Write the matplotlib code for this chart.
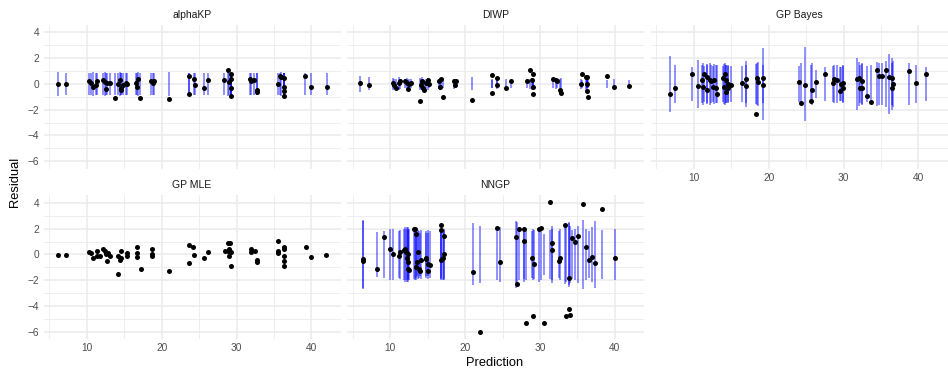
import numpy as np
import matplotlib
matplotlib.use("Agg")
import matplotlib.pyplot as plt
from matplotlib.ticker import MultipleLocator

plt.rcParams['font.family'] = ['Liberation Sans', 'DejaVu Sans']

### DATA ###########################################################

alpha_x = [6.2, 7.2, 10.3, 10.5, 10.8, 11.2, 11.3, 12.1, 12.4, 12.5,
           12.7, 13.1, 13.8, 14.2, 14.4, 14.5, 14.6, 14.8, 15.2, 15.3,
           16.6, 16.7, 16.8, 17.1, 18.6, 18.8, 19.0, 21.0, 23.7, 23.6,
           24.3, 24.4, 25.6, 26.2, 28.3, 28.8, 29.0, 29.2, 29.2, 29.3,
           29.2, 31.8, 31.9, 32.4, 32.7, 32.7, 35.6, 35.8, 36.0, 36.4,
           36.3, 36.3, 36.4, 39.1, 40.0, 42.1]
alpha_res = [0.0, 0.0, 0.2, 0.1, -0.2, -0.1, 0.2, 0.3, 0.15, -0.4,
             0.1, 0.1, -1.1, 0.0, 0.3, -0.3, -0.5, -0.05, 0.1, 0.0,
             0.1, -0.2, 0.4, -1.1, 0.25, 0.05, 0.25, -1.2, 0.6, -0.8,
             0.4, -0.1, -0.3, 0.3, 0.3, 1.05, 0.15, 0.75, 0.4, -0.35,
             -0.9, 0.35, 0.2, 0.3, -0.5, -0.6, 0.0, 0.65, 0.5, 0.45,
             -0.2, -0.55, -0.95, 0.65, -0.2, -0.2]
alpha_hw = [0.92, 0.88, 0.88, 0.85, 0.9, 0.86, 0.88, 0.87, 0.9, 0.86,
            0.88, 0.85, 0.87, 0.86, 0.9, 0.88, 0.85, 0.87, 0.88, 0.86,
            0.88, 0.85, 0.9, 0.87, 0.86, 0.88, 0.85, 0.9, 0.88, 0.86,
            0.87, 0.85, 0.86, 0.85, 0.88, 0.9, 0.87, 0.85, 0.88, 0.86,
            0.9, 0.86, 0.88, 0.85, 0.87, 0.86, 0.85, 0.88, 0.9, 0.86,
            0.87, 0.85, 0.88, 0.86, 0.85, 0.84]

diwp_x = [6.0, 7.2, 10.3, 10.5, 10.8, 11.1, 11.3, 11.9, 12.2, 12.3,
          12.5, 12.8, 13.9, 14.1, 14.2, 14.3, 14.5, 14.7, 15.0, 15.1,
          16.5, 16.7, 16.6, 17.0, 18.5, 18.7, 18.8, 20.9, 23.6, 23.6,
          24.2, 24.2, 25.5, 26.1, 28.3, 28.7, 29.1, 28.9, 29.1, 29.0,
          31.8, 32.1, 32.3, 32.7, 32.8, 35.6, 35.5, 36.1, 36.3, 36.3,
          36.3, 36.4, 39.0, 39.9, 41.9]
diwp_res = [0.05, -0.1, 0.1, -0.1, -0.3, 0.1, 0.2, 0.2, 0.1, -0.4,
            0.0, 0.1, -1.3, -0.05, 0.2, -0.3, -0.5, 0.1, 0.3, 0.0,
            0.2, 0.4, -0.2, -1.05, 0.2, -0.05, 0.2, -1.25, 0.7, -0.7,
            0.45, -0.05, -0.3, 0.2, 0.2, 1.05, 0.75, 0.3, -0.25, -0.8,
            0.4, 0.3, 0.2, -0.5, -0.7, 0.8, 0.0, 0.5, 0.5, 0.0,
            -0.55, -1.0, 0.65, -0.25, -0.15]
diwp_hw = [0.6, 0.5, 0.45, 0.4, 0.35, 0.5, 0.4, 0.35, 0.45, 0.3,
           0.4, 0.35, 0.45, 0.4, 0.5, 0.35, 0.3, 0.4, 0.45, 0.35,
           0.4, 0.3, 0.45, 0.35, 0.4, 0.3, 0.35, 0.5, 0.3, 0.35,
           0.4, 0.3, 0.35, 0.3, 0.35, 0.4, 0.3, 0.45, 0.35, 0.3,
           0.35, 0.4, 0.3, 0.35, 0.45, 0.3, 0.4, 0.45, 0.35, 0.3,
           0.4, 0.35, 0.3, 0.35, 0.3]

bayes_x = [6.8, 7.5, 9.8, 10.5, 11.1, 11.2, 11.4, 11.7, 11.8, 12.1,
           12.3, 12.6, 12.7, 12.9, 13.1, 13.9, 14.0, 14.2, 14.3, 14.3,
           14.5, 14.6, 15.0, 16.4, 16.9, 16.9, 18.4, 18.3, 18.6, 19.3,
           19.3, 24.0, 24.3, 24.8, 25.6, 25.8, 26.3, 27.5, 28.6, 28.7,
           29.1, 29.5, 29.7, 29.9, 29.9, 31.8, 32.1, 32.5, 32.2, 32.5,
           33.1, 33.7, 34.5, 34.8, 35.2, 35.7, 36.1, 36.5, 36.6, 36.5,
           38.7, 39.7, 41.0]
bayes_res = [-0.77, -0.3, 0.8, -0.15, 0.3, -0.2, 0.75, -0.45, 0.55, 0.3,
             0.2, -0.25, 0.3, -0.3, -0.75, 0.45, -0.2, 0.8, 0.3, -0.6,
             -0.3, 0.0, -0.1, 0.1, 0.35, -0.15, 0.45, -2.3, 0.15, 0.45,
             -0.05, 0.15, -1.45, -0.1, -1.3, -0.5, 0.15, 0.75, 0.05, 0.35,
             0.3, -0.55, 0.0, -0.3, 0.1, 0.35, 0.45, 0.25, -0.3, -0.3,
             -0.95, -1.4, 1.05, 0.6, 0.6, 1.05, 0.5, 0.45, 0.0, -0.35,
             1.0, 0.1, 0.8]
bayes_hw = [2.2, 1.5, 1.35, 1.85, 1.5, 1.6, 1.4, 1.55, 1.45, 1.6,
            1.5, 1.4, 1.55, 1.45, 1.5, 1.4, 1.55, 1.6, 1.45, 1.5,
            1.4, 1.5, 1.4, 1.4, 1.8, 1.5, 1.6, 1.55, 1.7, 2.8,
            1.5, 1.4, 1.6, 2.9, 1.5, 1.6, 1.1, 1.3, 1.4, 1.5,
            1.5, 1.3, 1.3, 1.4, 1.45, 2.0, 1.7, 1.6, 1.5, 1.55,
            1.4, 1.5, 1.7, 1.6, 1.6, 1.8, 2.3, 2.0, 1.8, 1.6,
            1.6, 1.5, 1.3]

mle_x = [6.2, 7.2, 10.3, 10.5, 10.8, 11.3, 11.3, 11.7, 12.2, 12.4,
         12.5, 12.7, 12.8, 13.1, 14.2, 14.2, 14.4, 14.5, 14.5, 15.3,
         15.3, 16.7, 16.7, 16.7, 17.2, 18.7, 18.7, 18.7, 21.0, 23.6,
         23.6, 24.2, 24.3, 25.6, 26.2, 28.4, 28.9, 29.1, 29.0, 29.0,
         29.0, 29.2, 29.2, 31.9, 31.9, 32.5, 32.7, 32.7, 35.5, 35.5,
         35.5, 36.4, 36.4, 36.4, 36.4, 36.4, 39.3, 40.0, 41.9]
mle_res = [-0.05, -0.05, 0.2, 0.1, -0.25, -0.1, 0.3, -0.1, 0.4, 0.25,
           0.0, -0.5, 0.1, -0.1, -1.5, -0.1, -0.4, 0.25, -0.25, 0.1,
           -0.1, 0.55, 0.1, -0.2, -1.15, 0.45, 0.05, -0.1, -1.3, 0.75,
           -0.7, 0.55, -0.05, -0.3, 0.2, 0.25, 0.85, 0.85, 0.45, 0.2,
           -0.15, 0.2, -0.9, 0.4, 0.15, 0.25, -0.4, -0.6, 1.05, 0.25,
           0.1, 0.55, 0.4, -0.1, -0.5, -0.9, 0.55, -0.2, -0.05]

nngp_x = [6.3, 6.4, 8.2, 9.1, 9.9, 10.4, 11.1, 11.3, 11.8, 12.0,
          12.1, 12.2, 12.3, 12.4, 12.5, 12.4, 13.1, 13.3, 13.4, 13.4,
          13.5, 13.7, 13.8, 14.0, 14.1, 14.7, 14.8, 15.0, 15.0, 15.3,
          16.8, 16.8, 16.8, 17.0, 17.2, 17.2, 21.0, 22.0, 24.3, 24.7,
          26.8, 26.9, 27.2, 27.9, 27.8, 28.1, 28.9, 29.0, 29.2, 29.9,
          30.1, 30.5, 31.3, 31.6, 31.6, 32.6, 32.7, 33.4, 33.5, 33.9,
          34.0, 33.9, 34.3, 34.7, 35.1, 35.7, 36.1, 36.5, 36.9, 37.3,
          38.3, 40.0]
nngp_res = [-0.35, -0.5, -1.1, 1.35, 0.45, 0.0, -0.15, 0.15, 0.35, 0.4,
            0.2, -0.25, -0.55, -1.1, -1.2, 0.0, 1.95, 2.0, 1.6, -0.95,
            -0.55, 0.2, -1.15, -1.3, -0.45, -0.25, -0.35, -1.25, -0.75, -0.8,
            2.25, 1.9, -0.45, -0.25, 1.4, 0.0, -1.4, -6.05, 2.05, -0.55,
            1.35, -2.3, 1.95, 1.95, 1.05, -5.35, -0.3, -4.75, -0.75, 2.0,
            2.05, -5.35, 4.1, 0.85, 0.35, -0.5, -0.25, 2.25, -4.8, -4.2,
            -4.7, -1.8, 1.3, 0.95, 1.45, 3.95, 0.55, -0.4, -0.2, -0.7,
            3.5, -0.3]
nngp_hw = [2.7, 2.6, 1.75, 1.8, 2.0, 2.0, 1.8, 1.9, 2.0, 2.1,
           2.0, 2.1, 2.0, 1.9, 2.0, 2.1, 1.9, 2.0, 1.8, 2.0,
           1.7, 1.9, 1.8, 1.7, 1.9, 1.7, 1.8, 1.7, 1.9, 1.8,
           1.9, 2.0, 1.8, 2.0, 1.9, 2.0, 2.4, 2.2, 2.0, 2.1,
           2.6, 2.5, 2.0, 2.1, 1.9, 2.0, 1.8, 2.0, 1.9, 2.1,
           2.0, 1.6, 1.9, 2.2, 2.0, 1.8, 2.0, 2.3, 2.1, 2.5,
           2.2, 2.4, 1.9, 2.0, 2.2, 2.7, 2.0, 1.8, 2.1, 2.6,
           1.9, 2.0]

panels = [
    ("alphaKP", alpha_x, alpha_res, alpha_hw),
    ("DIWP", diwp_x, diwp_res, diwp_hw),
    ("GP Bayes", bayes_x, bayes_res, bayes_hw),
    ("GP MLE", mle_x, mle_res, None),
    ("NNGP", nngp_x, nngp_res, nngp_hw),
]

### PLOT ###########################################################

W, H = 948, 373
fig = plt.figure(figsize=(W / 100, H / 100), dpi=100)

lefts = [43.5, 347, 650.5]
tops = [24.5, 195]
pw, ph = 297, 144

grid_col = '#ebebeb'
txt_col = '#4d4d4d'

for i, (name, x, res, hw) in enumerate(panels):
    row, col = divmod(i, 3)
    l = lefts[col]
    t = tops[row]
    ax = fig.add_axes([l / W, 1 - (t + ph) / H, pw / W, ph / H])

    x = np.array(x)
    res = np.array(res)
    if hw is not None:
        hw = np.array(hw)
        ax.vlines(x, -hw, hw, color='blue', alpha=0.5, lw=1.2, zorder=2)
    ax.scatter(x, res, s=13, color='black', zorder=3, linewidths=0)

    ax.set_xlim(4.2, 43.9)
    ax.set_ylim(-6.56, 4.61)
    ax.xaxis.set_major_locator(MultipleLocator(10))
    ax.xaxis.set_minor_locator(MultipleLocator(5))
    ax.yaxis.set_major_locator(MultipleLocator(2))
    ax.yaxis.set_minor_locator(MultipleLocator(1))
    ax.grid(which='major', color=grid_col, lw=1.1, zorder=0)
    ax.grid(which='minor', color=grid_col, lw=0.6, zorder=0)
    ax.set_axisbelow(True)
    for s in ax.spines.values():
        s.set_visible(False)
    ax.tick_params(which='both', length=0, labelsize=7.3, labelcolor=txt_col, pad=3)

    if col != 0:
        ax.set_yticklabels([])
    # x labels only on the lowest panel of each column
    if row == 0 and col != 2:
        ax.set_xticklabels([])

    ax.set_title(name, fontsize=7.5, color='#1a1a1a', pad=5)

fig.text(15 / W, 1 - 182 / H, "Residual", rotation=90, ha='center', va='center', fontsize=9.3)
fig.text(495 / W, 1 - 363 / H, "Prediction", ha='center', va='center', fontsize=9.3)

fig.savefig("out.png", dpi=100)
